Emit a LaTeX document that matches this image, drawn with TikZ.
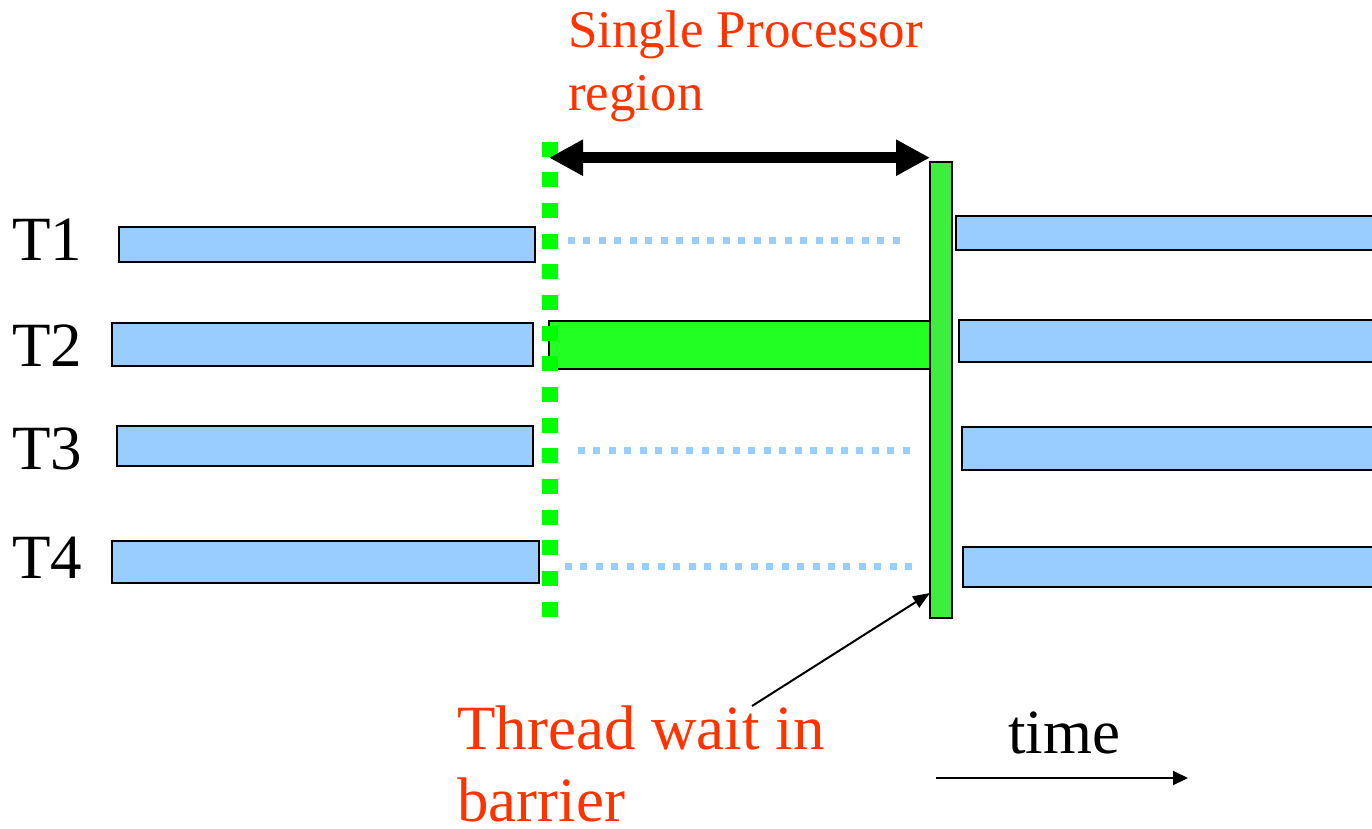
\documentclass[tikz,border=0pt]{standalone}
\usepackage{fontspec}
\setmainfont{Liberation Serif}
\usetikzlibrary{arrows.meta}
\definecolor{runblue}{HTML}{99CCFF}
\definecolor{solegreen}{HTML}{22FF22}
\definecolor{barriergreen}{HTML}{3EEE3E}
\definecolor{forkgreen}{HTML}{00FF00}
\definecolor{notered}{HTML}{FF3300}
\begin{document}
\begin{tikzpicture}[x=1pt,y=-1pt,
  box/.style={rectangle, draw=black, line width=2pt, inner sep=0pt, outer sep=0pt, anchor=north west},
  runbar/.style={box, fill=runblue},
  solebar/.style={box, fill=solegreen},
  barrierbar/.style={box, fill=barriergreen, line width=1.6pt},
  idle/.style={draw=runblue, line width=7pt, dash pattern=on 7pt off 8.47pt},
  fork/.style={draw=forkgreen, line width=16pt, dash pattern=on 15pt off 15.67pt},
  span/.style={draw=black, line width=11pt, {Triangle[length=34pt,width=34pt]}-{Triangle[length=34pt,width=34pt]}},
  thin/.style={draw=black, line width=2pt, -{Triangle[length=17pt,width=13pt]}},
  tlabel/.style={anchor=base west, inner sep=0pt, font=\fontsize{63}{63}\selectfont},
  note/.style={anchor=base west, inner sep=0pt, align=left, text=notered}
]
\useasboundingbox (0,0) rectangle (1372,828);

% thread labels
\node[tlabel] (l1) at (12,260) {T1};
\node[tlabel] (l2) at (12,366) {T2};
\node[tlabel] (l3) at (12,469) {T3};
\node[tlabel] (l4) at (12,578) {T4};

% parallel work before the single region
\node[runbar, minimum width=416pt, minimum height=35pt] (t1a) at (119,227) {};
\node[runbar, minimum width=421pt, minimum height=43pt] (t2a) at (112,323) {};
\node[runbar, minimum width=416pt, minimum height=40pt] (t3a) at (117,426) {};
\node[runbar, minimum width=427pt, minimum height=42pt] (t4a) at (112,541) {};

% parallel work after the barrier
\node[runbar, minimum width=430pt, minimum height=34pt] (t1b) at (956,216) {};
\node[runbar, minimum width=430pt, minimum height=42pt] (t2b) at (959,320) {};
\node[runbar, minimum width=430pt, minimum height=43pt] (t3b) at (962,427) {};
\node[runbar, minimum width=430pt, minimum height=40pt] (t4b) at (963,547) {};

% single thread at work
\node[solebar, minimum width=403pt, minimum height=48pt] (sole) at (549,321) {};

% barrier
\node[barrierbar, minimum width=22pt, minimum height=456pt] (barrier) at (930,162) {};

% waiting threads
\coordinate (w1s) at (568,240); \coordinate (w1e) at (900,240);
\coordinate (w3s) at (578,450); \coordinate (w3e) at (910,450);
\coordinate (w4s) at (565,566); \coordinate (w4e) at (913,566);
\draw[idle] (w1s) -- (w1e);
\draw[idle] (w3s) -- (w3e);
\draw[idle] (w4s) -- (w4e);

% start of the single region
\coordinate (forktop) at (549.5,141.7);
\coordinate (forkbot) at (549.5,617);
\draw[fork] (forktop) -- (forkbot);

% extent of the single region
\coordinate (spanl) at (549,157.7);
\coordinate (spanr) at (930,157.7);
\draw[span] (spanl) -- (spanr);

% notes (base anchor sits on the last line)
\node[note, font=\fontsize{53}{63}\selectfont] (spr) at (568,110) {Single Processor\\region};
\node[note, font=\fontsize{63}{72}\selectfont] (wait) at (457,821.7) {Thread wait in\\barrier};
\coordinate (waitfrom) at (752,706);
\draw[thin] (waitfrom) -- ([yshift=25pt]barrier.south west);

% time axis
\node[tlabel] (time) at (1008,753) {time};
\coordinate (ts) at (936,778); \coordinate (te) at (1188,778);
\draw[thin, -{Triangle[length=15pt,width=14pt]}] (ts) -- (te);
\end{tikzpicture}
\end{document}
